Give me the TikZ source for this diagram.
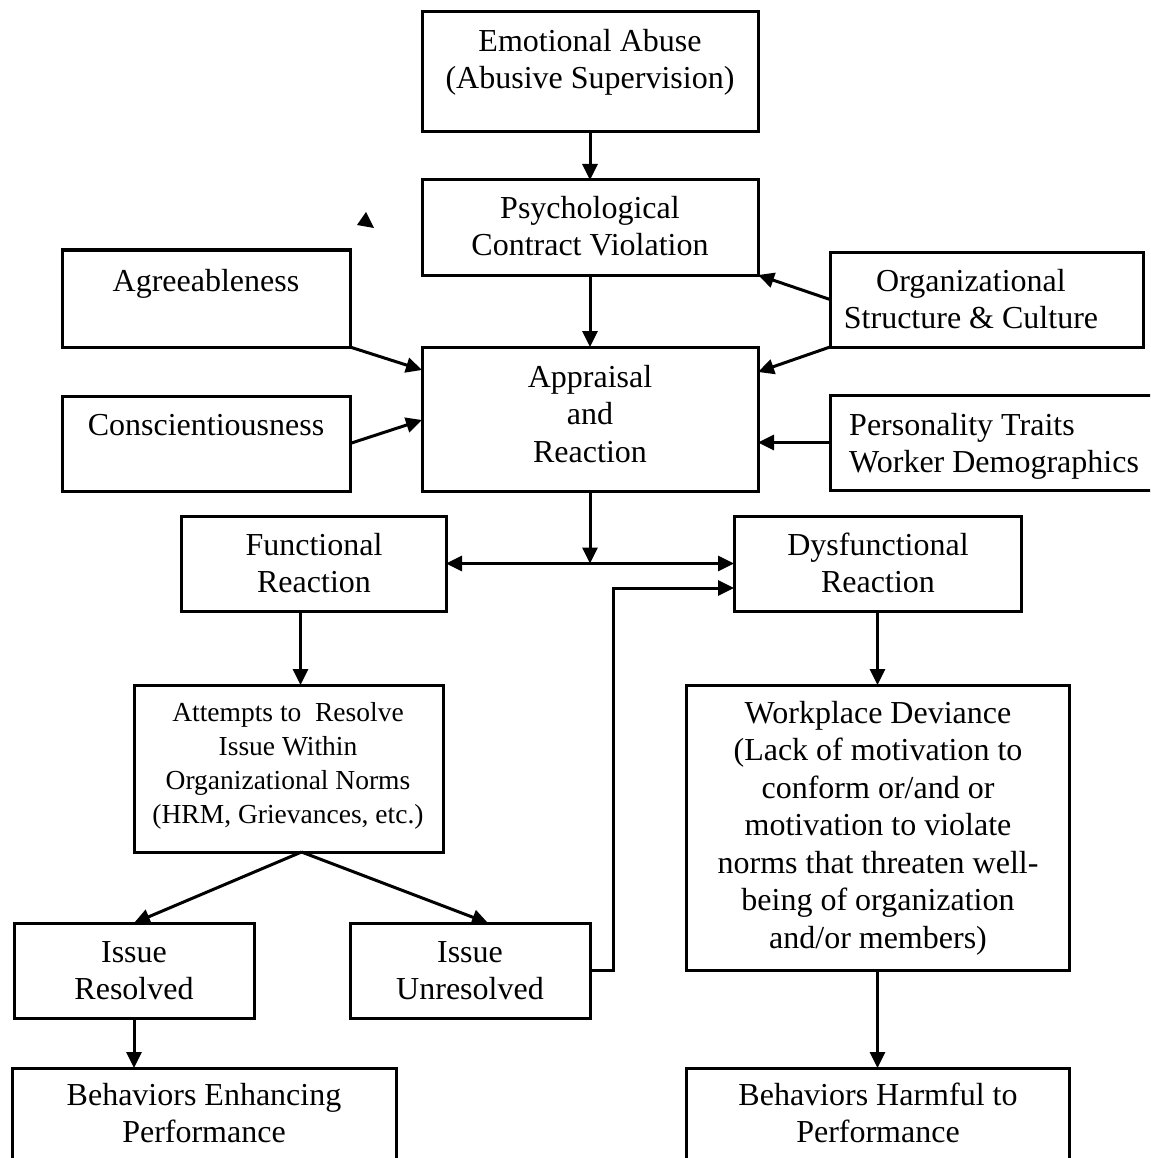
\documentclass[tikz,border=0pt]{standalone}
\usepackage{fontspec}
\setmainfont{Liberation Serif}
\usetikzlibrary{arrows.meta}
\begin{document}
\begin{tikzpicture}[x=1pt,y=-1pt,
 box/.style={draw, line width=3pt, outer sep=0pt, inner sep=0pt, anchor=north west},
 txt/.style={anchor=north, inner sep=0pt, align=center, font=\fontsize{32}{37.5}\selectfont},
 stxt/.style={txt, font=\fontsize{27.5}{34}\selectfont},
 arr/.style={line width=3pt, -{Triangle[length=16pt,width=15pt]}},
 darr/.style={line width=3pt, {Triangle[length=16pt,width=15pt]}-{Triangle[length=16pt,width=15pt]}},
]
\useasboundingbox (0,0) rectangle (1150,1158);
\clip (0,0) rectangle (1150,1158);

% boxes
\node[box, minimum width=336pt, minimum height=120pt] (ea) at (422,12) {};
\node[box, minimum width=336pt, minimum height=95pt] (pcv) at (422,180) {};
\node[box, minimum width=288pt, minimum height=97pt] (agr) at (62,250) {};
\node[box, minimum width=313pt, minimum height=95pt] (org) at (830,252) {};
\node[box, minimum width=336pt, minimum height=144pt] (app) at (422,347) {};
\node[box, minimum width=288pt, minimum height=95pt] (con) at (62,396) {};
\node[box, minimum width=330pt, minimum height=95pt] (per) at (830,395) {};
\node[box, minimum width=265pt, minimum height=95pt] (fr) at (181,516) {};
\node[box, minimum width=287pt, minimum height=95pt] (dr) at (734,516) {};
\node[box, minimum width=309pt, minimum height=167pt] (att) at (134,685) {};
\node[box, minimum width=383pt, minimum height=285pt] (wd) at (686,685) {};
\node[box, minimum width=240pt, minimum height=95pt] (ir) at (14,923) {};
\node[box, minimum width=240pt, minimum height=95pt] (iu) at (350,923) {};
\node[box, minimum width=384pt, minimum height=100pt] (be) at (12,1068) {};
\node[box, minimum width=383pt, minimum height=100pt] (bh) at (686,1068) {};

% texts
\node[txt] (ea-t) at (590,25) {\strut Emotional Abuse\\(Abusive Supervision)};
\node[txt] (pcv-t) at (590,192) {\strut Psychological\\Contract Violation};
\node[txt] (agr-t) at (206,265) {\strut Agreeableness};
\node[txt] (org-t) at (971,265) {\strut Organizational\\Structure \& Culture};
\node[txt] (app-t) at (590,361) {\strut Appraisal\\and\\Reaction};
\node[txt] (con-t) at (206,409) {\strut Conscientiousness};
\node[txt, anchor=north west, align=left] (per-t) at (849,409) {\strut Personality Traits\\Worker Demographics};
\node[txt] (fr-t) at (314,529) {\strut Functional\\Reaction};
\node[txt] (dr-t) at (878,529) {\strut Dysfunctional\\Reaction};
\node[stxt] (att-t) at (288,697) {\strut Attempts to\ \ Resolve\\Issue Within\\Organizational Norms\\(HRM, Grievances, etc.)};
\node[txt] (wd-t) at (878,697) {\strut Workplace Deviance\\(Lack of motivation to\\conform or/and or\\motivation to violate\\norms that threaten well-\\being of organization\\and/or members)};
\node[txt] (ir-t) at (134,936) {\strut Issue\\Resolved};
\node[txt] (iu-t) at (470,936) {\strut Issue\\Unresolved};
\node[txt] (be-t) at (204,1079) {\strut Behaviors Enhancing\\Performance};
\node[txt] (bh-t) at (878,1079) {\strut Behaviors Harmful to\\Performance};

% connectors
\draw[arr] (ea.south) -- (pcv.north);
\draw[arr] (pcv.south) -- (app.north);
\draw[arr] (org.west) -- (pcv.south east);
\draw[arr] (org.south west) -- ([yshift=-25pt]app.north east);
\draw[arr] (agr.south east) -- ([yshift=-23pt]app.north west);
\draw[arr] (con.east) -- ([yshift=-73pt]app.north west);
\draw[arr] (per.west) -- (app.east |- per.west);
\draw[arr] (app.south) -- (app.south |- fr.east);
\draw[darr] (fr.east) -- (dr.west);
\draw[arr] (iu.east) -- ++(23,0) |- ([yshift=-24.5pt]dr.west);
\draw[arr] ([xshift=-13pt]fr.south) -- ([xshift=-13pt]fr.south |- att.north);
\draw[arr] (dr.south) -- (wd.north);
\coordinate (split) at ([xshift=13pt]att.south);
\draw[arr] (split) -- (ir.north);
\draw[arr] (split) -- ([xshift=18pt]iu.north);
\draw[arr] (ir.south) -- (ir.south |- be.north);
\draw[arr] (wd.south) -- (bh.north);

% stray arrowhead
\fill (366,212) -- (357,225) -- (374,228) -- cycle;
\end{tikzpicture}
\end{document}
